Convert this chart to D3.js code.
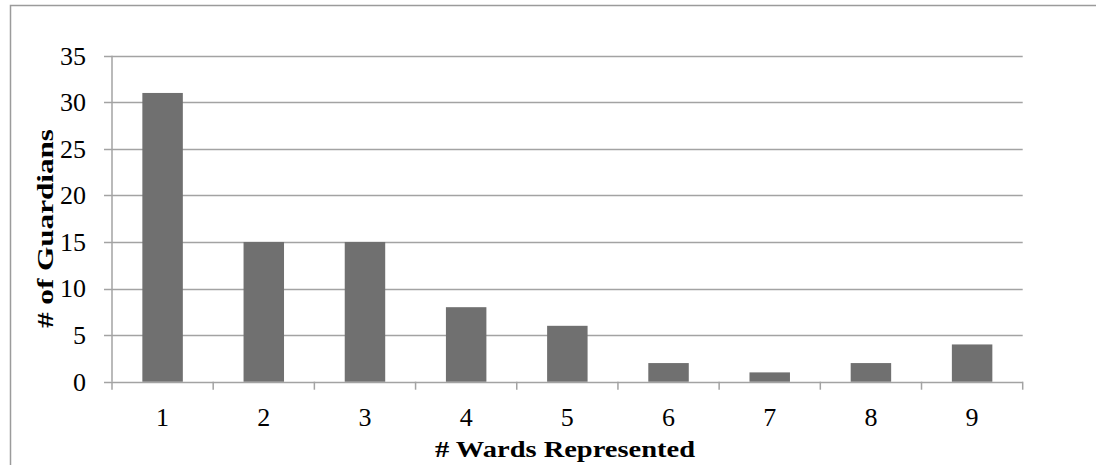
<!DOCTYPE html>
<html>
<head>
<meta charset="utf-8">
<script src="https://cdn.jsdelivr.net/npm/d3@7"></script>
<style>
  html, body { margin: 0; padding: 0; background: #fff; }
  svg { display: block; }
  text { font-family: "Liberation Serif", "Times New Roman", serif; fill: #000; }
</style>
</head>
<body>
<svg id="chart" width="1099" height="465"></svg>
<script>
// Number of wards each guardian represents
const categories = ["1", "2", "3", "4", "5", "6", "7", "8", "9"];
const guardians = [31, 15, 15, 8, 6, 2, 1, 2, 4];
const yTicks = [0, 5, 10, 15, 20, 25, 30, 35];
const xTitle = "# Wards Represented";
const yTitle = "# of Guardians";

const svg = d3.select("#chart");
const plot = { left: 112, right: 1022.7, top: 55.7, bottom: 381.7 };

// Chart frame (left and top edges fall inside the page)
svg.append("path")
  .attr("d", "M10.5,470 V5.5 H1096")
  .attr("fill", "none").attr("stroke", "#9b9b9b").attr("stroke-width", 1.5);

const x = d3.scaleBand().domain(categories)
  .range([plot.left, plot.right]).paddingInner(0.6).paddingOuter(0.3);
const xEdge = d3.scaleLinear().domain([0, categories.length]).range([plot.left, plot.right]);
const y = d3.scaleLinear().domain([0, 35]).range([plot.bottom, plot.top]);

// Horizontal gridlines with short ticks extending left of the axis
const gridColor = "#a3a3a3";
svg.append("g").selectAll("line").data(yTicks).join("line")
  .attr("x1", plot.left - 8).attr("x2", plot.right)
  .attr("y1", d => Math.round(y(d)) + 0.5).attr("y2", d => Math.round(y(d)) + 0.5)
  .attr("stroke", gridColor).attr("stroke-width", 1.5);

// Y axis line
svg.append("line")
  .attr("x1", plot.left).attr("x2", plot.left)
  .attr("y1", plot.top).attr("y2", plot.bottom)
  .attr("stroke", gridColor).attr("stroke-width", 1.5);

// X category boundary ticks below the axis
svg.append("g").selectAll("line").data(d3.range(categories.length + 1)).join("line")
  .attr("x1", d => xEdge(d)).attr("x2", d => xEdge(d))
  .attr("y1", plot.bottom).attr("y2", plot.bottom + 8)
  .attr("stroke", gridColor).attr("stroke-width", 1.5);

// Bars
svg.append("g").selectAll("rect").data(guardians).join("rect")
  .attr("x", (d, i) => x(categories[i]))
  .attr("width", x.bandwidth())
  .attr("y", d => y(d))
  .attr("height", d => y(0) - y(d))
  .attr("fill", "#707070");

// Y tick labels
svg.append("g").selectAll("text").data(yTicks).join("text")
  .attr("x", 86).attr("y", d => y(d))
  .attr("dy", "0.34em")
  .attr("text-anchor", "end")
  .attr("font-size", 26)
  .text(d => d);

// X tick labels
svg.append("g").selectAll("text").data(categories).join("text")
  .attr("x", d => x(d) + x.bandwidth() / 2).attr("y", 426)
  .attr("text-anchor", "middle")
  .attr("font-size", 26)
  .text(d => d);

// Axis titles
svg.append("text")
  .attr("x", 565).attr("y", 457)
  .attr("text-anchor", "middle")
  .attr("font-size", 24).attr("font-weight", "bold")
  .attr("textLength", 260).attr("lengthAdjust", "spacingAndGlyphs")
  .text(xTitle);

svg.append("text")
  .attr("transform", "translate(53,228.5) rotate(-90)")
  .attr("text-anchor", "middle")
  .attr("font-size", 24).attr("font-weight", "bold")
  .attr("textLength", 199).attr("lengthAdjust", "spacingAndGlyphs")
  .text(yTitle);
</script>
</body>
</html>
